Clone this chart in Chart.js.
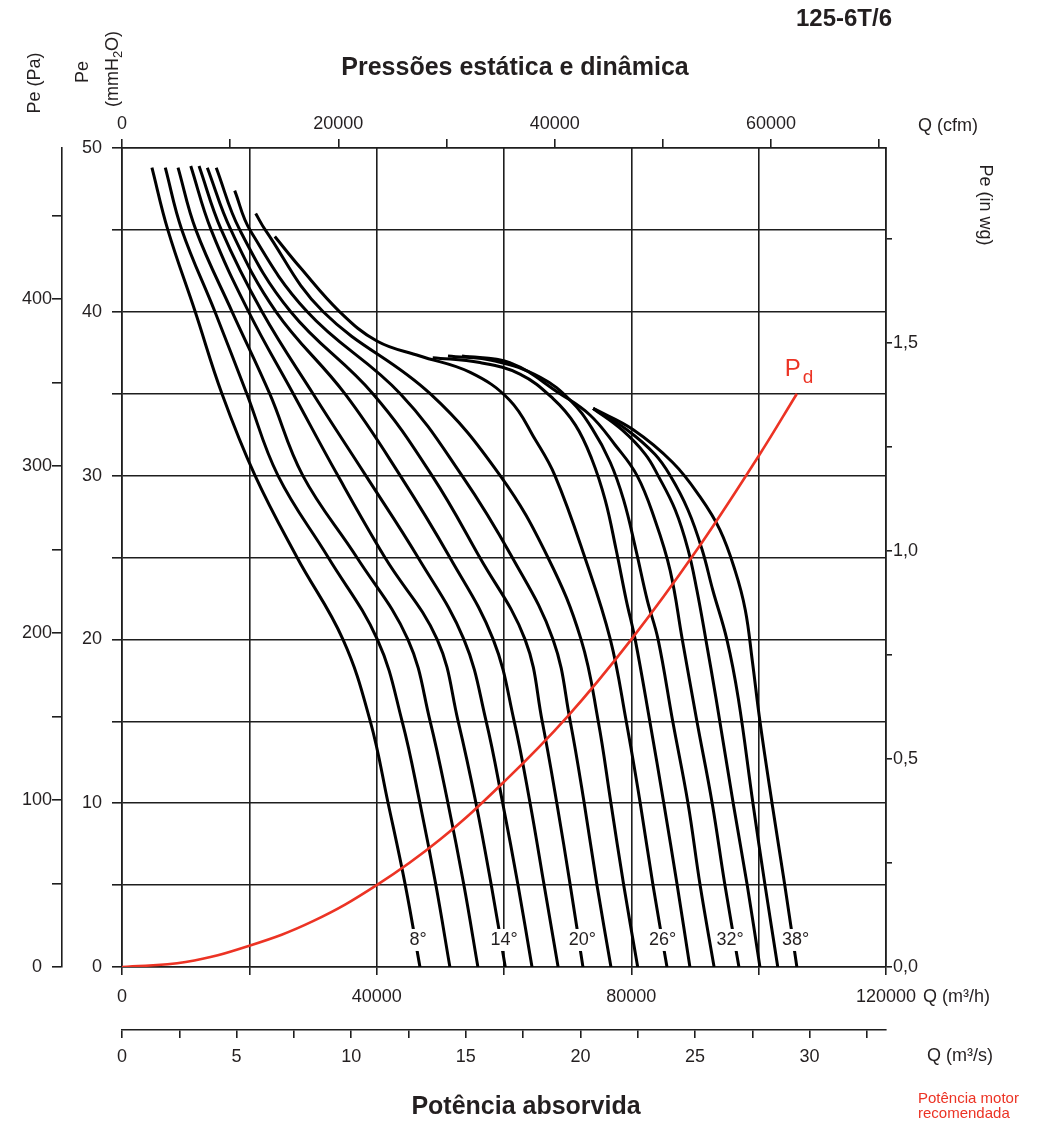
<!DOCTYPE html>
<html lang="pt">
<head>
<meta charset="utf-8">
<title>125-6T/6</title>
<script src="https://cdn.jsdelivr.net/npm/chart.js@4.4.1/dist/chart.umd.min.js"></script>
<style>
  html, body { margin: 0; padding: 0; background: #fff; }
  #caixa { width: 1038px; height: 1122px; }
</style>
</head>
<body>
<div id="caixa"><canvas id="grafico" width="1038" height="1122"></canvas></div>
<script>
//Curvas por angulo de pa: [vazao (m3/h), pressao estatica (mmH2O)]
const curva8  = [[4700,48.8],[7200,45],[11500,40],[15700,35],[20900,30],[27500,25],[34700,20],[39000,15],[41800,10],[44500,5],[46800,0]];
const curva10 = [[6800,48.8],[9400,45],[14600,40],[19600,35],[24500,30],[32400,25],[40100,20],[44000,15],[46800,10],[49300,5],[51500,0]];
const curva12 = [[8800,48.8],[11600,45],[17300,40],[23200,35],[28400,30],[36900,25],[44900,20],[48400,15],[51200,10],[53700,5],[55900,0]];
const curva14 = [[10800,48.9],[14000,45],[19900,40],[26900,35],[33900,30],[41300,25],[49500,20],[52800,15],[55600,10],[58000,5],[60200,0]];
const curva16 = [[12100,48.9],[15600,45],[22000,40],[30000,35],[38300,30],[46500,25],[53700,20],[57200,15],[59800,10],[62200,5],[64400,0]];
const curva18 = [[13400,48.8],[17100,45],[24200,40],[35000,35],[43700,30],[51500,25],[58300,20],[61600,15],[64100,10],[66300,5],[68500,0]];
const curva20 = [[14800,48.8],[18500,45],[26500,40],[39400,35],[48700,30],[56200,25],[63300,20],[66000,15],[68300,10],[70400,5],[72400,0]];
const curva22 = [[17700,47.4],[20100,45],[29100,40],[43700,35],[53400,30],[61300,25],[67700,20],[70400,15],[72600,10],[74600,5],[76800,0]];
const curva24 = [[21000,46.0],[22500,45],[31600,40],[48400,35],[59400,30],[66900,25],[72100,20],[74800,15],[76800,10],[78800,5],[81000,0]];
const curva26 = [[24000,44.6],[28000,42.7],[34200,40],[40100,38.2],[46800,37.3],[54700,36.3],[60900,34.6],[64900,32.2],[68000,30],[72700,25],[76700,20],[79200,15],[81400,10],[83400,5],[85600,0]];
const curva28 = [[48800,37.2],[56200,36.9],[62500,36.2],[67700,34.7],[71200,33.1],[73800,31.0],[75900,28.5],[77600,25.5],[79200,22.4],[80600,20],[82900,15],[85100,10],[87200,5],[89200,0]];
const curva30 = [[51200,37.3],[58600,37.0],[65700,36.0],[70400,34.6],[73800,32.9],[76700,30.8],[78800,28.5],[80700,25.5],[82500,22.4],[84200,20],[86500,15],[88900,10],[90800,5],[93000,0]];
const curva32 = [[53400,37.3],[60900,36.9],[68800,35.0],[73500,33.7],[77400,31.9],[80900,30],[83700,27.3],[86100,24.2],[88000,20],[90300,15],[92700,10],[94700,5],[96900,0]];
const curva34 = [[74000,34.1],[78500,32.8],[82200,31.3],[84200,30],[86900,27.9],[88900,25.5],[90300,23.0],[91700,20],[93300,16.4],[96000,10],[98200,5],[100200,0]];
const curva36 = [[74000,34.1],[79300,32.8],[83700,31.3],[86100,30],[88900,27.9],[91100,25.5],[92800,23.0],[95000,20],[96800,16.4],[99100,10],[101000,5],[103000,0]];
const curva38 = [[74000,34.1],[80300,32.8],[86500,30.8],[90800,28.7],[93900,26.7],[96300,24.2],[97900,21.8],[99000,18.7],[100200,15],[102100,10],[104100,5],[106000,0]];

const curvas = [curva8, curva10, curva12, curva14, curva16, curva18, curva20, curva22,
                curva24, curva26, curva28, curva30, curva32, curva34, curva36, curva38];

//Pressao dinamica Pd
const dinamicaVazao   = [0, 10000, 20000, 30000, 40000, 50000, 60000, 70000, 80000, 90000, 100000, 106000];
const dinamicaPressao = [0, 0.3, 1.3, 2.8, 5.0, 7.8, 11.3, 15.3, 20.0, 25.3, 31.2, 35.0];

//Rotulos dos angulos
const rotulosAngulo  = ['8°', '14°', '20°', '26°', '32°', '38°'];
const rotulosVazao   = [46500, 60000, 72300, 84900, 95500, 105800];
const rotuloPressao  = 1.65;

//Rotulos dos eixos
const ticksVazaoH  = [0, 40000, 80000, 120000];
const ticksVazaoS  = [0, 5, 10, 15, 20, 25, 30];
const ticksCfm     = [0, 20000, 40000, 60000];
const marcasCfm    = [0, 10000, 20000, 30000, 40000, 50000, 60000, 70000];
const ticksMm      = [0, 10, 20, 30, 40, 50];
const ticksPa      = [0, 100, 200, 300, 400];
const ticksInwg    = [0, 0.5, 1.0, 1.5];

//Conversoes
const PA_POR_MM   = 9.80665;
const MM_POR_INWG = 25.4;
const M3H_POR_CFM = 1.69901;
const M3H_POR_M3S = 3600;
const Q_MAX = 120000;
const P_MAX = 50;

const fonte = "'Liberation Sans', Arial, Helvetica, sans-serif";
const corGrade = '#1e1e1e';
const corTexto = '#231f20';
const corVermelha = '#ec3324';

const temValor = (lista, v) => lista.some(x => Math.abs(x - v) < 1e-6);

const rotulo = (lista, fmt) => (value) => temValor(lista, value) ? (fmt ? fmt(value) : String(value)) : '';

const fonteTick = { family: fonte, size: 18 };

const eixo = (extra) => Object.assign({
    type: 'linear',
    min: 0,
    ticks: { color: corTexto, font: fonteTick, includeBounds: false, autoSkip: false, maxRotation: 0 },
    border: { display: true, color: corGrade, width: 1.6 },
}, extra);

const rotTexto = (ctx, txt, x, y, ang) => {
    ctx.save();
    ctx.translate(x, y);
    ctx.rotate(ang);
    ctx.textAlign = 'center';
    ctx.fillText(txt, 0, 0);
    ctx.restore();
};

const plugTextos = {
    id: 'textos',
    afterDatasetsDraw: (chart) => {
        const ctx = chart.ctx;
        const sx = chart.scales.x, sy = chart.scales.y;
        ctx.save();
        ctx.font = `18px ${fonte}`;
        ctx.textAlign = 'center';
        ctx.textBaseline = 'middle';
        rotulosAngulo.forEach((txt, i) => {
            const px = sx.getPixelForValue(rotulosVazao[i]);
            const py = sy.getPixelForValue(rotuloPressao);
            const w = ctx.measureText(txt).width;
            ctx.fillStyle = '#fff';
            ctx.fillRect(px - w / 2 - 2, py - 11, w + 4, 22);
            ctx.fillStyle = corTexto;
            ctx.fillText(txt, px, py);
        });
        //Pd
        const n = dinamicaVazao.length - 1;
        const ex = sx.getPixelForValue(dinamicaVazao[n]);
        const ey = sy.getPixelForValue(dinamicaPressao[n]);
        ctx.fillStyle = corVermelha;
        ctx.textAlign = 'left';
        ctx.textBaseline = 'alphabetic';
        ctx.font = `24px ${fonte}`;
        ctx.fillText('P', ex - 12, ey - 18);
        ctx.font = `19px ${fonte}`;
        ctx.fillText('d', ex + 6, ey - 11);
        ctx.restore();
    },
    afterDraw: (chart) => {
        const ctx = chart.ctx;
        ctx.save();
        ctx.fillStyle = corTexto;
        ctx.textBaseline = 'middle';

        ctx.font = `bold 24px ${fonte}`;
        ctx.textAlign = 'right';
        ctx.fillText('125-6T/6', 892, 19);

        ctx.textAlign = 'center';
        ctx.font = `bold 25px ${fonte}`;
        ctx.fillText('Pressões estática e dinâmica', 515, 68);
        ctx.fillText('Potência absorvida', 526, 1107);

        ctx.font = `18px ${fonte}`;
        ctx.textAlign = 'left';
        ctx.fillText('Q (cfm)', 918, 126);
        ctx.fillText('Q (m³/h)', 923, 997);
        ctx.fillText('Q (m³/s)', 927, 1056);

        rotTexto(ctx, 'Pe (Pa)', 35, 83, -Math.PI / 2);
        rotTexto(ctx, 'Pe', 83, 72, -Math.PI / 2);
        rotTexto(ctx, 'Pe (in wg)', 985, 205, Math.PI / 2);

        //(mmH2O) com indice
        ctx.save();
        ctx.translate(113, 69);
        ctx.rotate(-Math.PI / 2);
        ctx.textAlign = 'left';
        const a = '(mmH', b = '2', c = 'O)';
        ctx.font = `18px ${fonte}`;
        const wa = ctx.measureText(a).width, wc = ctx.measureText(c).width;
        ctx.font = `13px ${fonte}`;
        const wb = ctx.measureText(b).width;
        let x0 = -(wa + wb + wc) / 2;
        ctx.font = `18px ${fonte}`;
        ctx.fillText(a, x0, 0);
        ctx.font = `13px ${fonte}`;
        ctx.fillText(b, x0 + wa, 5);
        ctx.font = `18px ${fonte}`;
        ctx.fillText(c, x0 + wa + wb, 0);
        ctx.restore();

        ctx.fillStyle = corVermelha;
        ctx.font = `15px ${fonte}`;
        ctx.fillText('Potência motor', 918, 1099);
        ctx.fillText('recomendada', 918, 1114);
        ctx.restore();
    }
};

const datasets = curvas.map((c, i) => ({
    label: (8 + 2 * i) + '°',
    data: c.map(p => ({ x: p[0], y: p[1] })),
    showLine: true,
    borderColor: '#000',
    borderWidth: 3,
    pointRadius: 0,
    tension: 0.4,
    order: 1,
    xAxisID: 'x',
    yAxisID: 'y'
}));

datasets.push({
    label: 'Pd',
    data: dinamicaVazao.map((q, i) => ({ x: q, y: dinamicaPressao[i] })),
    showLine: true,
    borderColor: corVermelha,
    borderWidth: 2.6,
    pointRadius: 0,
    tension: 0.4,
    order: 0,
    xAxisID: 'x',
    yAxisID: 'y'
});

const config = {
    type: 'scatter',
    data: { datasets },
    options: {
        responsive: false,
        maintainAspectRatio: false,
        devicePixelRatio: 1,
        animation: false,
        layout: { padding: { top: 108, right: 92, bottom: 42, left: 0 } },
        plugins: { legend: { display: false }, tooltip: { enabled: false }, title: { display: false } },
        scales: {
            x: eixo({
                position: 'bottom', max: Q_MAX, weight: 0,
                ticks: { color: corTexto, font: fonteTick, stepSize: 20000, padding: 11, autoSkip: false, maxRotation: 0,
                         callback: rotulo(ticksVazaoH) },
                grid: { color: corGrade, lineWidth: 1.6, tickLength: 8 },
                afterFit: (s) => { s.height = 63; }
            }),
            xs: eixo({
                position: 'bottom', max: Q_MAX / M3H_POR_M3S, weight: 1,
                ticks: { color: corTexto, font: fonteTick, stepSize: 2.5, padding: 8, includeBounds: false, autoSkip: false, maxRotation: 0,
                         callback: rotulo(ticksVazaoS) },
                grid: { drawOnChartArea: false, color: corGrade, lineWidth: 1.6, tickLength: 8 },
                afterFit: (s) => { s.height = 50; }
            }),
            xcfm: eixo({
                position: 'top', max: Q_MAX / M3H_POR_CFM,
                ticks: { color: corTexto, font: fonteTick, padding: 4, autoSkip: false, maxRotation: 0,
                         callback: rotulo(ticksCfm) },
                afterBuildTicks: (s) => { s.ticks = marcasCfm.map(v => ({ value: v })); },
                grid: { drawOnChartArea: false, color: corGrade, lineWidth: 1.6, tickLength: 9 },
                afterFit: (s) => { s.height = 40; }
            }),
            y: eixo({
                position: 'left', max: P_MAX, weight: 0,
                ticks: { color: corTexto, font: fonteTick, stepSize: 5, padding: 10, autoSkip: false,
                         callback: rotulo(ticksMm) },
                grid: { color: corGrade, lineWidth: 1.6, tickLength: 10 },
                afterFit: (s) => { s.width = 60; }
            }),
            ypa: eixo({
                position: 'left', max: P_MAX * PA_POR_MM, weight: 1,
                ticks: { color: corTexto, font: fonteTick, stepSize: 50, padding: 0, includeBounds: false, autoSkip: false,
                         crossAlign: 'center', callback: rotulo(ticksPa) },
                grid: { drawOnChartArea: false, color: corGrade, lineWidth: 1.6, tickLength: 10 },
                afterFit: (s) => { s.width = 62; }
            }),
            yin: eixo({
                position: 'right', max: P_MAX / MM_POR_INWG,
                ticks: { color: corTexto, font: fonteTick, stepSize: 0.25, padding: 1, includeBounds: false, autoSkip: false,
                         callback: rotulo(ticksInwg, v => v.toFixed(1).replace('.', ',')) },
                grid: { drawOnChartArea: false, color: corGrade, lineWidth: 1.6, tickLength: 6 },
                afterFit: (s) => { s.width = 60; }
            })
        }
    },
    plugins: [plugTextos]
};

document.addEventListener('DOMContentLoaded', () => {
    new Chart(document.getElementById('grafico'), config);
});
</script>
</body>
</html>
